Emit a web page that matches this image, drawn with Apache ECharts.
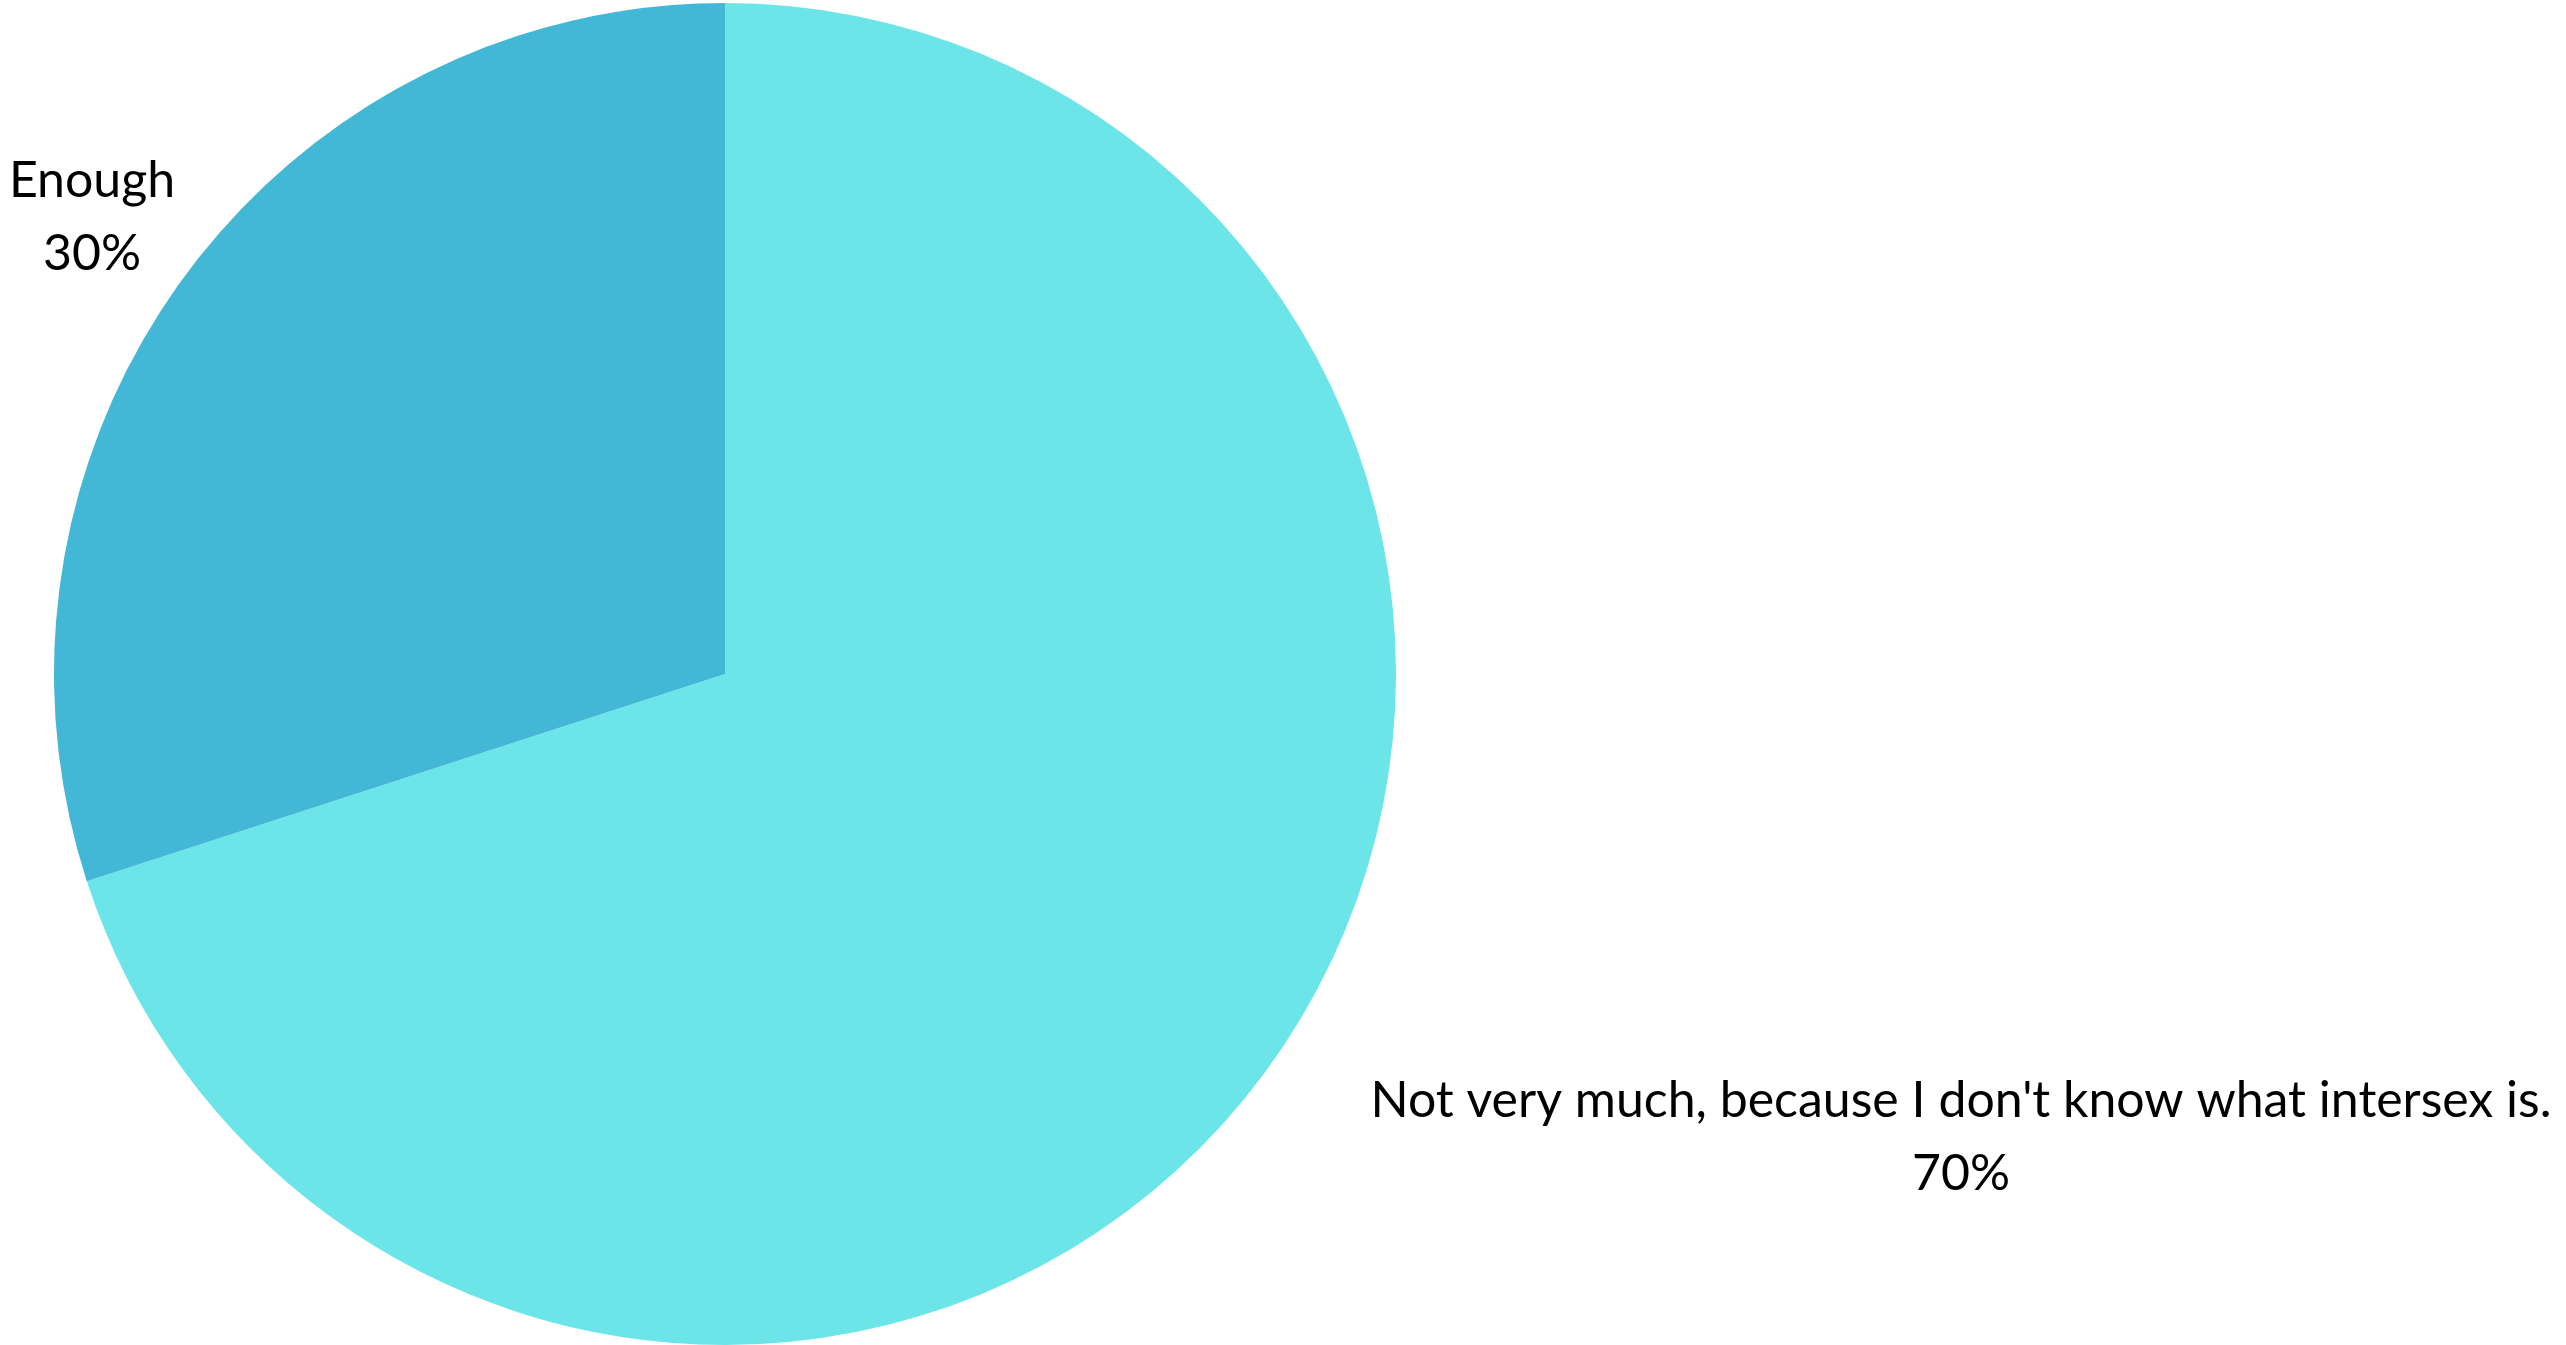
<!DOCTYPE html>
<html>
<head>
<meta charset="utf-8">
<script src="https://cdn.jsdelivr.net/npm/echarts@6/dist/echarts.min.js"></script>
<style>
html,body{margin:0;padding:0;background:#fff;}
#chart{width:2566px;height:1345px;}
</style>
</head>
<body>
<div id="chart"></div>
<script>
const categories = ["Not very much, because I don't know what intersex is.", "Enough"];
const values = [70, 30];
const colors = ['#6BE5E8', '#43B7D6'];

const chart = echarts.init(document.getElementById('chart'), null, {renderer: 'canvas'});
const labelSpots = [
  {x: 1961, y: 1137},
  {x: 92, y: 217}
];
chart.setOption({
  animation: false,
  series: [{
    type: 'pie',
    center: [725, 674],
    radius: [0, 671],
    startAngle: 90,
    clockwise: true,
    silent: true,
    data: categories.map((c, i) => ({name: c, value: values[i], itemStyle: {color: colors[i]}})),
    itemStyle: {borderWidth: 0},
    label: {
      show: true,
      position: 'inside',
      formatter: '{b}\n{d}%',
      color: '#000',
      fontFamily: 'Lato',
      fontSize: 50,
      lineHeight: 73,
      align: 'center',
      overflow: 'none'
    },
    labelLine: {show: false},
    labelLayout: function (p) {
      const s = labelSpots[p.dataIndex];
      return {x: s.x, y: s.y, align: 'center', verticalAlign: 'middle'};
    }
  }]
});
</script>
</body>
</html>
